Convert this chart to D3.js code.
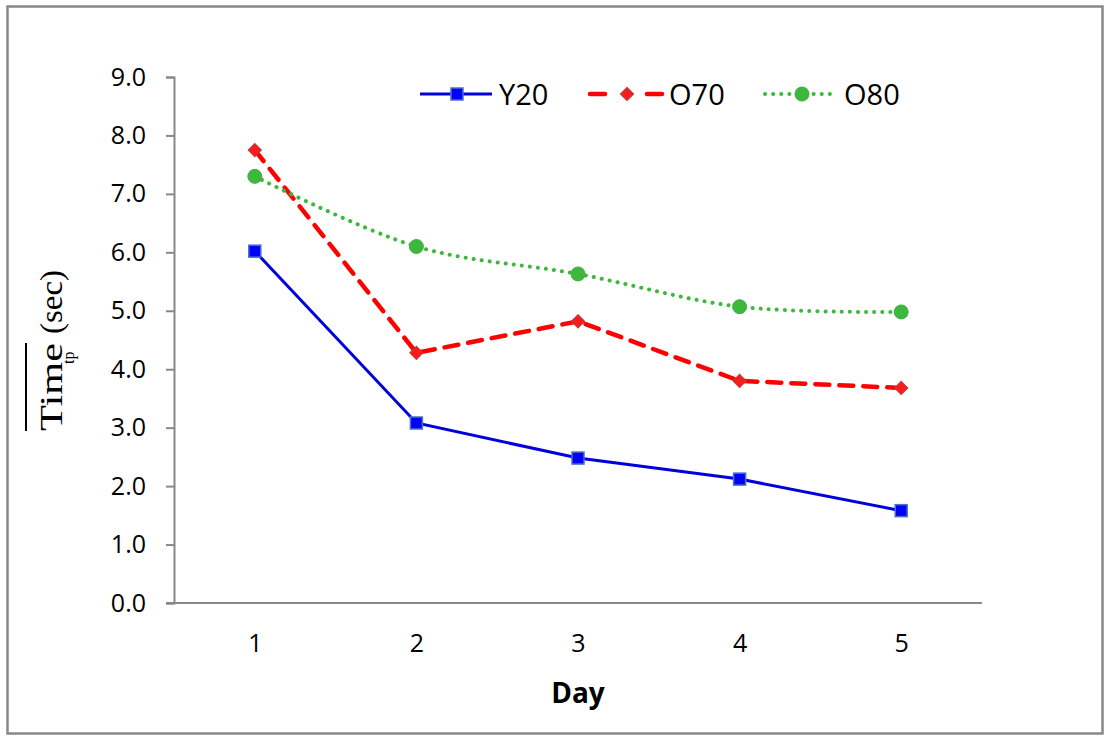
<!DOCTYPE html>
<html lang="en">
<head>
    <meta charset="UTF-8">
    <title>Time_tp by Day</title>
    <script src="https://cdnjs.cloudflare.com/ajax/libs/d3/7.8.5/d3.min.js"></script>
    <style>
        body {
            margin: 0;
            overflow: hidden;
            background: #fff;
            font-family: "Open Sans", "Noto Sans", sans-serif;
        }
    </style>
</head>
<body>
    <script>
        const width = 1111;
        const height = 742;

        // Data
        const days = ['1', '2', '3', '4', '5'];
        const y20 = [6.02, 3.08, 2.48, 2.12, 1.58];
        const o70 = [7.75, 4.28, 4.82, 3.80, 3.68];
        const o80 = [7.30, 6.10, 5.63, 5.07, 4.98];
        const yTicks = [0, 1, 2, 3, 4, 5, 6, 7, 8, 9];

        const series = [
            { name: 'Y20', values: y20, color: '#0000dd', dash: null, width: 3, marker: 'square', curve: d3.curveLinear },
            { name: 'O70', values: o70, color: '#ff0000', dash: '14,10', width: 4.5, marker: 'diamond', curve: d3.curveLinear },
            { name: 'O80', values: o80, color: '#3cb93c', dash: '0.1,8', width: 4, marker: 'circle', curve: d3.curveCatmullRom.alpha(0.5) }
        ];

        const plot = { left: 174, right: 982, top: 77, bottom: 603 };

        const svg = d3.select('body')
            .append('svg')
            .attr('width', width)
            .attr('height', height);

        // Outer frame
        svg.append('rect')
            .attr('x', 7.5).attr('y', 6.5)
            .attr('width', 1095).attr('height', 727)
            .attr('fill', 'none')
            .attr('stroke', '#888')
            .attr('stroke-width', 2.5);

        const x = d3.scalePoint()
            .domain(days)
            .range([plot.left, plot.right])
            .padding(0.5);

        const y = d3.scaleLinear()
            .domain([0, 9])
            .range([plot.bottom, plot.top]);

        // Y axis
        const yAxis = svg.append('g')
            .attr('transform', `translate(${plot.left},0)`)
            .call(d3.axisLeft(y).tickValues(yTicks).tickFormat(d3.format('.1f')).tickSize(8).tickPadding(20));
        yAxis.select('.domain').attr('stroke', '#888').attr('stroke-width', 2);
        yAxis.selectAll('.tick line').attr('stroke', '#888').attr('stroke-width', 2);
        yAxis.selectAll('.tick text')
            .attr('font-family', '"Open Sans", sans-serif')
            .attr('font-size', 25)
            .attr('fill', '#000');

        // X axis
        const xAxis = svg.append('g')
            .attr('transform', `translate(0,${plot.bottom})`)
            .call(d3.axisBottom(x).tickSize(0).tickPadding(31));
        xAxis.select('.domain')
            .attr('d', `M${plot.left - 8},0H${plot.right}`)
            .attr('stroke', '#888').attr('stroke-width', 2);
        xAxis.selectAll('.tick text')
            .attr('font-family', '"Open Sans", sans-serif')
            .attr('font-size', 25)
            .attr('fill', '#000');

        svg.append('text')
            .attr('x', (plot.left + plot.right) / 2)
            .attr('y', 703)
            .attr('text-anchor', 'middle')
            .attr('font-family', '"Open Sans", sans-serif')
            .attr('font-weight', 'bold')
            .attr('font-size', 28)
            .text('Day');

        // Y axis label: overlined "Time" with subscript "tp", then "(sec)"
        const serif = '"Liberation Serif", "DejaVu Serif", serif';
        const yLabel = svg.append('g').attr('transform', 'translate(62,0) rotate(-90)');
        yLabel.append('text')
            .attr('x', -431).attr('y', 0)
            .attr('font-family', serif).attr('font-size', 31)
            .attr('textLength', 88).attr('lengthAdjust', 'spacingAndGlyphs')
            .text('Time');
        yLabel.append('text')
            .attr('x', -364).attr('y', 12)
            .attr('font-family', serif).attr('font-size', 16)
            .text('tp');
        yLabel.append('text')
            .attr('x', -334).attr('y', 0)
            .attr('font-family', serif).attr('font-size', 31)
            .attr('textLength', 64).attr('lengthAdjust', 'spacingAndGlyphs')
            .text('(sec)');
        svg.append('line')
            .attr('x1', 26).attr('x2', 26)
            .attr('y1', 431).attr('y2', 343)
            .attr('stroke', '#000').attr('stroke-width', 2);

        function drawMarker(g, type, cx, cy, color) {
            if (type === 'square') {
                g.append('rect')
                    .attr('x', cx - 6).attr('y', cy - 6)
                    .attr('width', 12).attr('height', 12)
                    .attr('fill', '#0000ff').attr('stroke', '#4a72c8').attr('stroke-width', 1.5);
            } else if (type === 'diamond') {
                g.append('path')
                    .attr('d', `M${cx},${cy - 6.5}L${cx + 6.5},${cy}L${cx},${cy + 6.5}L${cx - 6.5},${cy}Z`)
                    .attr('fill', '#ff1a1a').attr('stroke', '#c0393b').attr('stroke-width', 1.2);
            } else {
                g.append('circle')
                    .attr('cx', cx).attr('cy', cy).attr('r', 7)
                    .attr('fill', color).attr('stroke', '#44aa44').attr('stroke-width', 1);
            }
        }

        // Lines and markers
        series.forEach(s => {
            const line = d3.line()
                .x((d, i) => x(days[i]))
                .y(d => y(d))
                .curve(s.curve);
            svg.append('path')
                .datum(s.values)
                .attr('d', line)
                .attr('fill', 'none')
                .attr('stroke', s.color)
                .attr('stroke-width', s.width)
                .attr('stroke-dasharray', s.dash)
                .attr('stroke-linecap', s.dash ? 'round' : 'butt');
            const g = svg.append('g');
            s.values.forEach((v, i) => drawMarker(g, s.marker, x(days[i]), y(v), s.color));
        });

        // Legend
        const legendX = [420, 590, 765];
        series.forEach((s, i) => {
            const g = svg.append('g').attr('transform', `translate(${legendX[i]},94)`);
            g.append('line')
                .attr('x1', 0).attr('x2', 72)
                .attr('stroke', s.color)
                .attr('stroke-width', s.width)
                .attr('stroke-dasharray', s.name === 'O70' ? '15,42' : s.dash)
                .attr('stroke-linecap', s.dash ? 'round' : 'butt');
            drawMarker(g, s.marker, 37, 0, s.color);
            g.append('text')
                .attr('x', 79).attr('y', 11)
                .attr('font-family', '"Open Sans", sans-serif')
                .attr('font-size', 29)
                .text(s.name);
        });
    </script>
</body>
</html>
